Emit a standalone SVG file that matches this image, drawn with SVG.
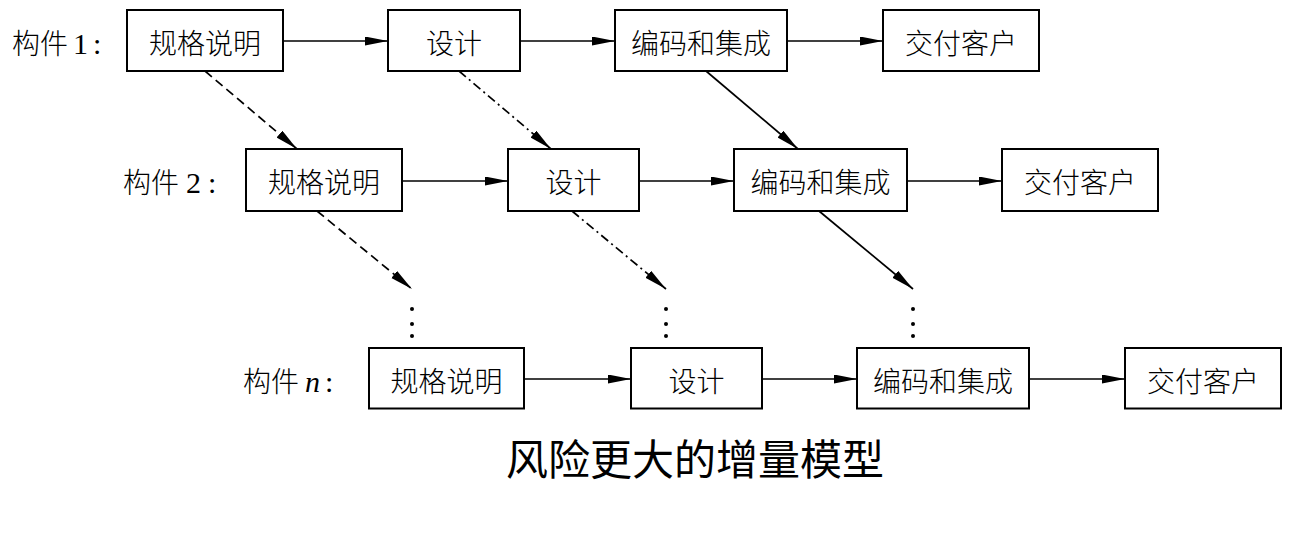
<svg xmlns="http://www.w3.org/2000/svg" width="1306" height="549" viewBox="0 0 1306 549">
<defs>
<marker id="ah" markerUnits="userSpaceOnUse" markerWidth="24" markerHeight="10" refX="23" refY="4.5" orient="auto">
<path d="M0,0 L23,4.5 L0,9 z" fill="#000"/>
</marker>
<style>
.box{fill:#fff;stroke:#000;stroke-width:2}
.t{font-family:"Noto Sans CJK SC",sans-serif;font-size:28px;font-weight:300;fill:#000;text-anchor:middle}
.lab{font-family:"Liberation Serif","Noto Sans CJK SC",serif;font-size:30px;fill:#000}
.cj{font-family:"Noto Sans CJK SC",sans-serif;font-weight:300;font-size:28px}
.ln{stroke:#000;stroke-width:1.7;fill:none;marker-end:url(#ah)}
.dash{stroke-dasharray:9 5}
.dd{stroke-dasharray:9 4 2 4}
.title{font-family:"Noto Sans CJK SC",sans-serif;font-size:42px;fill:#000;text-anchor:middle}
</style>
</defs>
<rect width="1306" height="549" fill="#fff"/>

<g id="labels">
<text class="lab" y="54"><tspan class="cj" x="12">构件</tspan><tspan x="73">1</tspan><tspan x="93">:</tspan></text>
<text class="lab" y="193"><tspan class="cj" x="123">构件</tspan><tspan x="186">2</tspan><tspan x="208">:</tspan></text>
<text class="lab" y="392"><tspan class="cj" x="243">构件</tspan><tspan x="305" font-style="italic">n</tspan><tspan x="325">:</tspan></text>
</g>

<g id="connectors">
<line class="ln" x1="283" y1="41" x2="388" y2="41"/>
<line class="ln" x1="520" y1="41" x2="615" y2="41"/>
<line class="ln" x1="787" y1="41" x2="883" y2="41"/>
<line class="ln" x1="402" y1="181" x2="508" y2="181"/>
<line class="ln" x1="639" y1="181" x2="734" y2="181"/>
<line class="ln" x1="907" y1="181" x2="1002" y2="181"/>
<line class="ln" x1="524" y1="379" x2="631" y2="379"/>
<line class="ln" x1="762" y1="379" x2="857" y2="379"/>
<line class="ln" x1="1029" y1="379" x2="1125" y2="379"/>
<line class="ln dash" x1="205" y1="71" x2="297" y2="149"/>
<line class="ln dd" x1="459" y1="71" x2="551" y2="149"/>
<line class="ln" x1="706" y1="71" x2="798" y2="149"/>
<line class="ln dash" x1="317" y1="211" x2="412" y2="289"/>
<line class="ln dd" x1="572" y1="211" x2="666" y2="289"/>
<line class="ln" x1="819" y1="211" x2="913" y2="289"/>
</g>

<g id="ellipsis" fill="#000">
<circle cx="412" cy="309" r="2"/><circle cx="412" cy="324" r="2"/><circle cx="412" cy="336" r="2"/>
<circle cx="666" cy="309" r="2"/><circle cx="666" cy="324" r="2"/><circle cx="666" cy="336" r="2"/>
<circle cx="913" cy="309" r="2"/><circle cx="913" cy="324" r="2"/><circle cx="913" cy="336" r="2"/>
</g>

<g id="r1-spec"><rect class="box" x="127" y="10" width="156" height="61"/><text class="t" x="205" y="54">规格说明</text></g>
<g id="r1-design"><rect class="box" x="388" y="10" width="132" height="61"/><text class="t" x="454" y="54">设计</text></g>
<g id="r1-code"><rect class="box" x="615" y="10" width="172" height="61"/><text class="t" x="701" y="54">编码和集成</text></g>
<g id="r1-deliver"><rect class="box" x="883" y="10" width="156" height="61"/><text class="t" x="961" y="54">交付客户</text></g>

<g id="r2-spec"><rect class="box" x="246" y="149" width="156" height="62"/><text class="t" x="324" y="193">规格说明</text></g>
<g id="r2-design"><rect class="box" x="508" y="149" width="131" height="62"/><text class="t" x="573.5" y="193">设计</text></g>
<g id="r2-code"><rect class="box" x="734" y="149" width="173" height="62"/><text class="t" x="820.5" y="193">编码和集成</text></g>
<g id="r2-deliver"><rect class="box" x="1002" y="149" width="156" height="62"/><text class="t" x="1080" y="193">交付客户</text></g>

<g id="rn-spec"><rect class="box" x="369" y="348" width="155" height="60.5"/><text class="t" x="446.5" y="392">规格说明</text></g>
<g id="rn-design"><rect class="box" x="631" y="348" width="131" height="60.5"/><text class="t" x="696.5" y="392">设计</text></g>
<g id="rn-code"><rect class="box" x="857" y="348" width="172" height="60.5"/><text class="t" x="943" y="392">编码和集成</text></g>
<g id="rn-deliver"><rect class="box" x="1125" y="348" width="156" height="60.5"/><text class="t" x="1203" y="392">交付客户</text></g>

<text id="title" class="title" x="695" y="475">风险更大的增量模型</text>
</svg>
